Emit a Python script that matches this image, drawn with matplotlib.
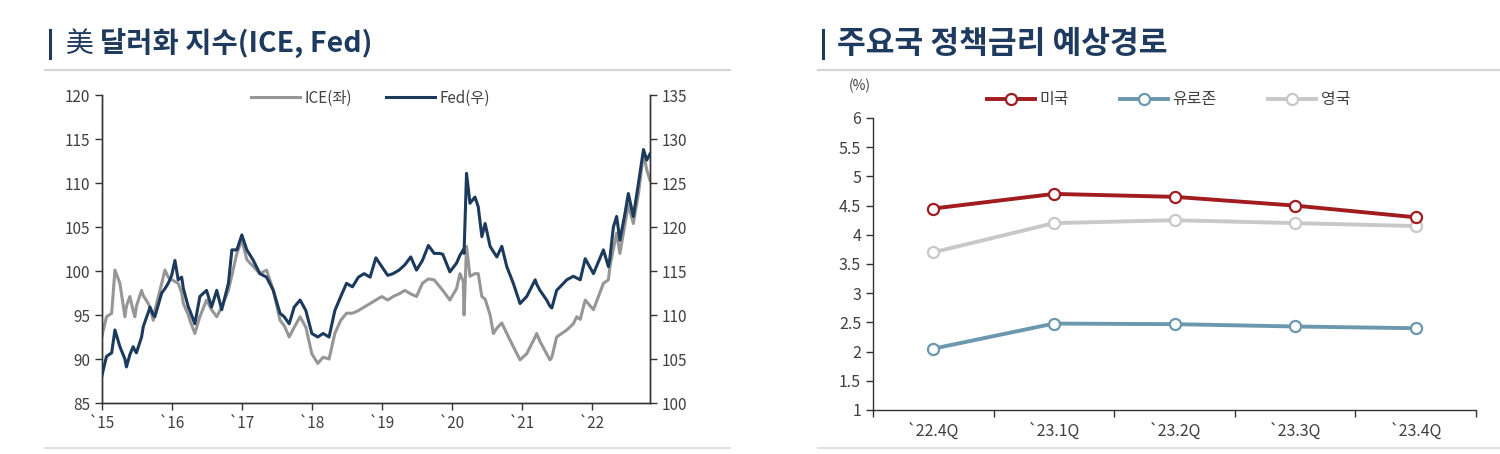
import matplotlib
matplotlib.use("Agg")
import matplotlib.pyplot as plt
from matplotlib.lines import Line2D
import pandas as pd

plt.rcParams['font.family'] = ['Noto Sans CJK KR', 'DejaVu Sans']

# ---------------- data: left panel (dollar indices) ----------------
dates = [
    "2015-01-01", "2015-01-26", "2015-02-22", "2015-03-11", "2015-04-06", "2015-05-02",
    "2015-05-10", "2015-05-28", "2015-06-14", "2015-06-23", "2015-07-01", "2015-07-28",
    "2015-08-06", "2015-09-01", "2015-09-10", "2015-09-27", "2015-10-05", "2015-11-10",
    "2015-11-27", "2015-12-14", "2016-01-01", "2016-01-18", "2016-02-04", "2016-02-22",
    "2016-03-02", "2016-03-28", "2016-04-05", "2016-05-01", "2016-05-27", "2016-07-01",
    "2016-07-27", "2016-08-23", "2016-09-18", "2016-10-23", "2016-11-10", "2016-12-06",
    "2017-01-01", "2017-01-27", "2017-03-02", "2017-04-05", "2017-05-10", "2017-06-14",
    "2017-07-19", "2017-08-10", "2017-09-05", "2017-10-01", "2017-11-01", "2017-12-01",
    "2018-01-01", "2018-02-01", "2018-03-01", "2018-04-01", "2018-05-01", "2018-06-01",
    "2018-07-01", "2018-08-01", "2018-09-01", "2018-10-01", "2018-11-01", "2018-12-01",
    "2019-01-01", "2019-02-01", "2019-03-01", "2019-04-01", "2019-05-01", "2019-06-01",
    "2019-07-01", "2019-08-01", "2019-09-01", "2019-10-01", "2019-10-31", "2019-11-15",
    "2019-12-22", "2020-01-26", "2020-02-13", "2020-03-01", "2020-03-05", "2020-03-18",
    "2020-04-05", "2020-05-01", "2020-05-18", "2020-06-06", "2020-06-23", "2020-07-19",
    "2020-08-05", "2020-08-23", "2020-09-18", "2020-10-14", "2020-11-17", "2020-12-22",
    "2021-01-26", "2021-03-11", "2021-03-19", "2021-04-05", "2021-05-10", "2021-05-27",
    "2021-06-06", "2021-07-01", "2021-08-23", "2021-09-26", "2021-10-14", "2021-11-01",
    "2021-11-27", "2022-01-09", "2022-03-02", "2022-03-28", "2022-04-05", "2022-04-23",
    "2022-05-10", "2022-05-27", "2022-06-23", "2022-07-10", "2022-08-05", "2022-09-01",
    "2022-09-27", "2022-10-14", "2022-10-31"]

ice = [
    92.5, 94.8, 95.2, 100.1, 98.6, 94.8,
    96.0, 97.1, 95.5, 94.8, 96.0, 97.8,
    97.2, 96.3, 95.8, 94.4, 95.5, 98.6,
    100.1, 99.3, 99.0, 98.8, 98.6, 97.5,
    96.3, 95.0, 94.4, 92.9, 94.8, 96.7,
    95.6, 94.8, 95.9, 97.8, 99.5, 102.0,
    103.5, 101.3, 100.5, 99.7, 100.1, 97.8,
    94.4, 93.8, 92.5, 93.6, 94.8, 93.6,
    90.6, 89.5, 90.2, 90.0, 92.9, 94.4,
    95.2, 95.2, 95.5, 95.9, 96.3, 96.7,
    97.1, 96.7, 97.1, 97.4, 97.8, 97.4,
    97.1, 98.6, 99.1, 99.0, 98.2, 97.8,
    96.7, 98.0, 99.7, 98.8, 95.0, 102.8,
    99.4, 99.7, 99.7, 97.1, 96.8, 95.0,
    92.9, 93.5, 94.1, 92.9, 91.4, 89.9,
    90.6, 92.5, 92.9, 92.0, 90.6, 89.9,
    90.2, 92.5, 93.3, 94.0, 94.8, 94.5,
    96.7, 95.6, 98.6, 99.0, 100.5, 102.5,
    104.3, 102.0, 105.4, 107.5, 105.4, 108.8,
    113.4, 111.5, 110.3]

fed = [
    103.0, 105.3, 105.7, 108.3, 106.4, 105.0,
    104.1, 105.5, 106.4, 106.0, 105.7, 107.5,
    108.7, 110.3, 110.9, 110.0, 109.8, 112.5,
    113.0, 113.6, 114.5, 116.2, 114.0, 114.3,
    113.0, 110.9, 110.5, 109.0, 112.1, 112.8,
    110.9, 112.8, 110.6, 113.6, 117.4, 117.4,
    119.1, 117.4, 116.2, 114.7, 114.3, 112.8,
    110.2, 109.8, 109.0, 110.9, 111.7, 110.5,
    107.9, 107.5, 107.9, 107.5, 110.5, 112.1,
    113.6, 113.2, 114.3, 114.7, 114.3, 116.5,
    115.5, 114.5, 114.7, 115.1, 115.7, 116.6,
    115.1, 116.2, 117.9, 117.0, 117.0, 116.9,
    114.9, 115.9, 116.8, 117.4, 117.0, 126.1,
    122.7, 123.4, 122.3, 118.9, 120.4, 117.8,
    117.2, 116.6, 117.8, 115.5, 113.6, 111.3,
    112.1, 114.0, 113.5, 112.8, 111.7, 111.0,
    110.8, 112.8, 114.0, 114.4, 114.2, 114.0,
    116.4, 114.7, 117.4, 115.5, 116.5, 120.0,
    121.2, 118.5, 121.6, 123.8, 121.2, 125.0,
    128.8, 127.6, 128.3]

year_ticks = ["2015", "2016", "2017", "2018", "2019", "2020", "2021", "2022"]
year_labels = ["`15", "`16", "`17", "`18", "`19", "`20", "`21", "`22"]

# ---------------- data: right panel (policy rate paths) ----------------
quarters = ["`22.4Q", "`23.1Q", "`23.2Q", "`23.3Q", "`23.4Q"]
us = [4.45, 4.70, 4.65, 4.50, 4.30]
euro = [2.05, 2.48, 2.47, 2.43, 2.40]
uk = [3.70, 4.20, 4.25, 4.20, 4.15]

# ---------------- styles ----------------
NAVY = "#1b3a5c"
GRAY = "#969696"
TITLE = "#1f3a5f"
TICKC = "#404040"
RED = "#a01c1f"
BLUE = "#6b98ae"
LGRAY = "#c8c8c8"

W, H = 1500, 454
fig = plt.figure(figsize=(15, 4.54), dpi=100)

def fx(px):
    return px / W

def fy(py):
    return 1 - py / H

# headers
for x0, x1 in [(45, 730), (818, 1500)]:
    fig.add_artist(Line2D([fx(x0), fx(x1)], [fy(70), fy(70)], color="#d6d6d6", lw=1.6))
    fig.add_artist(Line2D([fx(x0), fx(x1)], [fy(448), fy(448)], color="#e0e0e0", lw=1.4))
fig.add_artist(Line2D([fx(50), fx(50)], [fy(30), fy(58)], color=TITLE, lw=2.2))
fig.add_artist(Line2D([fx(823), fx(823)], [fy(30), fy(58)], color=TITLE, lw=2.2))
fig.text(fx(66), fy(44), "美", fontsize=20, color=TITLE, va="center", ha="left")
fig.text(fx(100), fy(44), "달러화 지수(ICE, Fed)", fontsize=20.5, color=TITLE,
         fontweight="bold", va="center", ha="left")
fig.text(fx(837), fy(44), "주요국 정책금리 예상경로", fontsize=22.5, color=TITLE,
         fontweight="bold", va="center", ha="left")

# ---------------- left panel ----------------
x = pd.to_datetime(dates)
ax = fig.add_axes([fx(101.7), fy(403), fx(650 - 101.7), (403 - 95) / H])
ax.plot(x, ice, color=GRAY, lw=2.2, label="ICE(좌)", zorder=2)
ax.set_ylim(85, 120)
ax.set_yticks(range(85, 121, 5))
ax.set_xlim(pd.Timestamp("2015-01-01"), pd.Timestamp("2022-10-31"))
ax.set_xticks(pd.to_datetime(year_ticks))
ax.set_xticklabels(year_labels)

ax2 = ax.twinx()
ax2.plot(x, fed, color=NAVY, lw=2.2, label="Fed(우)", zorder=3)
ax2.set_ylim(100, 135)
ax2.set_yticks(range(100, 136, 5))

for a in (ax, ax2):
    a.spines["top"].set_visible(False)
    for s in a.spines.values():
        s.set_color("#333333")
        s.set_linewidth(1.0)
    a.tick_params(colors="#333333", labelcolor=TICKC, labelsize=11, length=5, width=1.0,
                  direction="out")
ax.tick_params(axis="x", pad=4)
ax.set_facecolor("none")

h1, l1 = ax.get_legend_handles_labels()
h2, l2 = ax2.get_legend_handles_labels()
leg = ax2.legend(h1 + h2, l1 + l2, loc="center", bbox_to_anchor=(0.49, 0.99), ncol=2,
                 frameon=False, fontsize=11, handlelength=3.2, columnspacing=2.2,
                 handletextpad=0.3)
for t in leg.get_texts():
    t.set_color(TICKC)

# ---------------- right panel ----------------
bx = fig.add_axes([fx(873), fy(410), fx(1476 - 873), (410 - 118) / H])
pos = list(range(len(quarters)))
mk = dict(marker="o", markersize=8, markerfacecolor="white", markeredgewidth=1.6)
bx.plot(pos, us, color=RED, lw=2.8, markeredgecolor=RED, label="미국", zorder=4, **mk)
bx.plot(pos, euro, color=BLUE, lw=2.8, markeredgecolor=BLUE, label="유로존", zorder=3, **mk)
bx.plot(pos, uk, color=LGRAY, lw=2.8, markeredgecolor=LGRAY, label="영국", zorder=2, **mk)
bx.set_xlim(-0.5, len(quarters) - 0.5)
bx.set_ylim(1, 6)
yt = [1 + 0.5 * i for i in range(11)]
bx.set_yticks(yt)
bx.set_yticklabels([f"{v:g}" for v in yt])
bx.set_xticks([i - 0.5 for i in range(len(quarters) + 1)])
bx.set_xticklabels([])
bx.set_xticks(pos, minor=True)
bx.set_xticklabels(quarters, minor=True)
bx.tick_params(axis="x", which="minor", length=0, pad=9, labelsize=11.5, labelcolor=TICKC)
bx.tick_params(axis="both", which="major", colors="#333333", labelcolor=TICKC,
               labelsize=11.5, length=5, width=1.0, direction="out")
for s in ["top", "right"]:
    bx.spines[s].set_visible(False)
for s in ["left", "bottom"]:
    bx.spines[s].set_color("#333333")
    bx.spines[s].set_linewidth(1.0)
bleg = bx.legend(loc="center", bbox_to_anchor=(0.49, 1.063), ncol=3, frameon=False,
                 fontsize=11.5, handlelength=3.0, columnspacing=3.2, handletextpad=0.3)
for t in bleg.get_texts():
    t.set_color(TICKC)
fig.text(fx(860), fy(86), "(%)", fontsize=10, color=TICKC, ha="center", va="center")

fig.savefig("out.png", dpi=100, facecolor="white")
